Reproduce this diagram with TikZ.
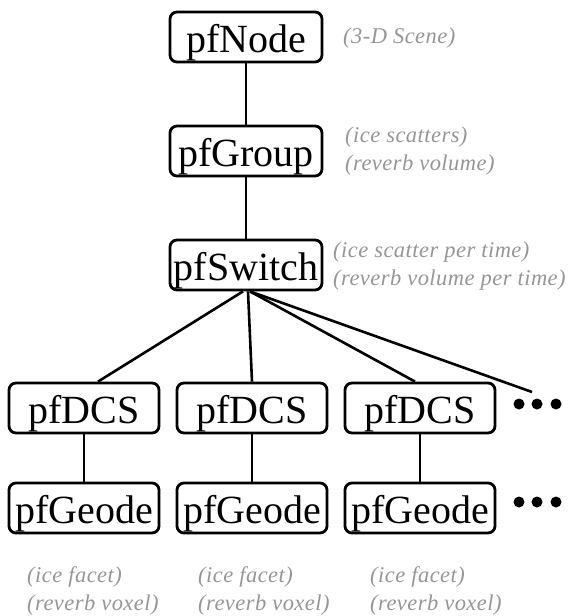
\documentclass[tikz,border=0pt]{standalone}
\usepackage{fontspec}
\setmainfont{Liberation Serif}
\newfontfamily\notefont[LetterSpace=2]{Liberation Serif}
\usetikzlibrary{calc}
\definecolor{notegray}{RGB}{150,150,150}
\tikzset{
  classbox/.style={draw=black, line width=2.8pt, rounded corners=7pt,
    inner sep=0pt, text height=40pt, text depth=10pt,
    font=\fontsize{40}{40}\selectfont},
  topbox/.style={classbox, minimum width=152pt},
  leafbox/.style={classbox, minimum width=150pt},
  link/.style={line width=2.6pt},
  note/.style={anchor=west, inner sep=0pt, text=notegray, align=left,
    font=\notefont\fontsize{22.5}{28}\itshape},
  moredot/.style={circle, fill=black, inner sep=0pt, minimum size=11pt}
}
\begin{document}
\begin{tikzpicture}[x=1pt, y=-1pt]
  \useasboundingbox (0,0) rectangle (569,616);

  % scene-graph class hierarchy
  \node[topbox] (node)   at (246,37)  {pfNode};
  \node[topbox] (group)  at (246,151) {pfGroup};
  \node[topbox] (switch) at (246,265) {pfSwitch};

  \node[leafbox] (dcsA) at (84,408)  {pfDCS};
  \node[leafbox] (dcsB) at (252,408) {pfDCS};
  \node[leafbox] (dcsC) at (420,408) {pfDCS};

  \node[leafbox] (geoA) at (84,508)  {pfGeode};
  \node[leafbox] (geoB) at (252,508) {pfGeode};
  \node[leafbox] (geoC) at (420,508) {pfGeode};

  % further children
  \node[moredot] (dotA1) at (519,404) {};
  \node[moredot] (dotA2) at (537,404) {};
  \node[moredot] (dotA3) at (556,404) {};
  \node[moredot] (dotB1) at (519,502) {};
  \node[moredot] (dotB2) at (537,502) {};
  \node[moredot] (dotB3) at (556,502) {};
  \coordinate (more) at (532,392);

  % connectors
  \draw[link] (node.south) -- (group.north);
  \draw[link] (group.south) -- (switch.north);
  \draw[link] ($(switch.south)+(-3,0)$) -- ($(dcsA.north)+(14,0)$);
  \draw[link] ($(switch.south)+(2,0)$)  -- (dcsB.north);
  \draw[link] ($(switch.south)+(4,0)$)  -- ($(dcsC.north)+(-5,0)$);
  \draw[link] ($(switch.south)+(4,0)$)  -- (more);
  \draw[link] (dcsA.south) -- (geoA.north);
  \draw[link] (dcsB.south) -- (geoB.north);
  \draw[link] (dcsC.south) -- (geoC.north);

  % annotations
  \node[note] (noteNode)   at (343,38)  {(3-D Scene)};
  \node[note] (noteGroup)  at (345,151) {(ice scatters)\\(reverb volume)};
  \node[note] (noteSwitch) at (333,266) {(ice scatter per time)\\(reverb volume per time)};
  \node[note] (noteA) at (27,591)  {(ice facet)\\(reverb voxel)};
  \node[note] (noteB) at (198,591) {(ice facet)\\(reverb voxel)};
  \node[note] (noteC) at (370,591) {(ice facet)\\(reverb voxel)};
\end{tikzpicture}
\end{document}
